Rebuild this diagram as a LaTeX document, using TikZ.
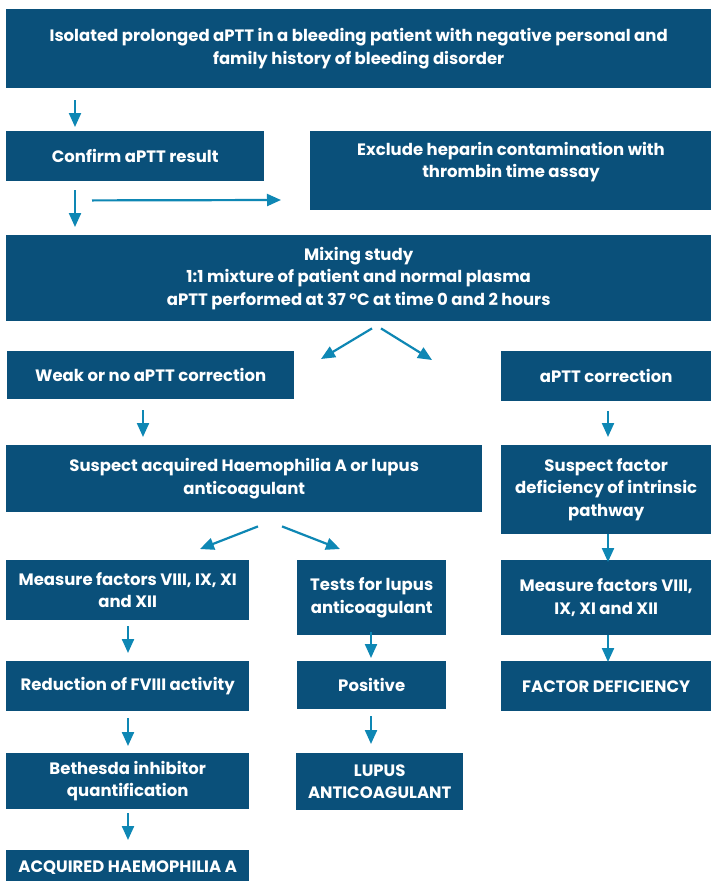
\documentclass[tikz,border=0pt]{standalone}
\usepackage{fontspec}
\setmainfont{Poppins}
\usetikzlibrary{arrows.meta,calc}
\definecolor{boxblue}{RGB}{10,80,122}
\definecolor{arrblue}{RGB}{14,135,180}
\begin{document}
\begin{tikzpicture}[x=1pt,y=-1pt,
  box/.style={fill=boxblue, draw=none, inner sep=0pt, anchor=north west, text=white,
    font=\fontsize{16.5}{22.5}\selectfont\bfseries, align=center},
  txt/.style={inner sep=0pt, text=white, font=\fontsize{16.5}{22.5}\selectfont\bfseries, align=center},
  arr/.style={draw=arrblue, line width=2.2pt, -{Triangle[length=14pt,width=12pt]}}]
\useasboundingbox[fill=white] (0,0) rectangle (711,881);
\begin{scope}
\clip (0,0) rectangle (711,881);
\node[box, minimum width=705, minimum height=79] (top) at (6,9) {Isolated prolonged aPTT in a bleeding patient with negative personal and\\family history of bleeding disorder};
\node[box, minimum width=258, minimum height=50] (confirm) at (6,131) {Confirm aPTT result};
\node[box, minimum width=401, minimum height=79] (excl) at (310,131) {};
\node[txt] (excltext) at (511,162) {Exclude heparin contamination with\\thrombin time assay};
\node[box, minimum width=705, minimum height=86] (mix) at (6,235) {Mixing study\\1:1 mixture of patient and normal plasma\\aPTT performed at 37 °C at time 0 and 2 hours};
\node[box, minimum width=287, minimum height=48] (weak) at (7,351) {Weak or no aPTT correction};
\node[box, minimum width=210, minimum height=50] (corr) at (501,351) {aPTT correction};
\node[box, minimum width=476, minimum height=67] (susp) at (6,445) {Suspect acquired Haemophilia A or lupus\\anticoagulant};
\node[box, minimum width=210, minimum height=89] (suspf) at (501,445) {Suspect factor\\deficiency of intrinsic\\pathway};
\node[box, minimum width=243, minimum height=60] (meas1) at (6,560) {Measure factors VIII, IX, XI\\and XII};
\node[box, minimum width=149, minimum height=75] (tests) at (297,560) {Tests for lupus\\anticoagulant};
\node[box, minimum width=210, minimum height=75] (meas2) at (501,560) {Measure factors VIII,\\IX, XI and XII};
\node[box, minimum width=243, minimum height=50] (red) at (6,661) {Reduction of FVIII activity};
\node[box, minimum width=149, minimum height=48] (pos) at (297,661) {Positive};
\node[box, minimum width=210, minimum height=50] (fdef) at (501,661) {FACTOR DEFICIENCY};
\node[box, minimum width=243, minimum height=56] (beth) at (6,753) {Bethesda inhibitor\\quantification};
\node[box, minimum width=167, minimum height=57] (lupus) at (296,753) {LUPUS\\ANTICOAGULANT};
\node[box, minimum width=243, minimum height=34] (acq) at (6,850) {ACQUIRED HAEMOPHILIA A};
\end{scope}
% arrows
\draw[arr] ($(top.south west)+(69,12)$) -- ($(confirm.north west)+(69,-4)$);
\draw[arr] ($(confirm.south west)+(69,9)$) -- ($(mix.north west)+(69,-8)$);
\draw[arr] ($(confirm.south west)+(86,19)$) -- ($(excl.north west)+(-29,69)$);
\draw[arr] ($(mix.south west)+(366,7)$) -- ($(weak.north west)+(314,8)$);
\draw[arr] ($(mix.south west)+(375,7)$) -- ($(corr.north west)+(-69,9)$);
\draw[arr] ($(weak.south west)+(136,11)$) -- ($(susp.north west)+(137,-8)$);
\draw[arr] ($(corr.south west)+(107,10)$) -- ($(suspf.north west)+(107,-8)$);
\draw[arr] ($(susp.south west)+(252,14)$) -- ($(meas1.north west)+(194,-11)$);
\draw[arr] ($(susp.south west)+(276,14)$) -- ($(tests.north west)+(43,-11)$);
\draw[arr] ($(suspf.south west)+(107,0)$) -- ($(meas2.north west)+(107,2)$);
\draw[arr] ($(meas1.south west)+(122,6)$) -- ($(red.north west)+(122,-8)$);
\draw[arr] ($(tests.south west)+(74,-3)$) -- ($(pos.north west)+(74,-3)$);
\draw[arr] ($(meas2.south west)+(107,0)$) -- ($(fdef.north west)+(107,1)$);
\draw[arr] ($(red.south west)+(122,7)$) -- ($(beth.north west)+(122,-7)$);
\draw[arr] ($(pos.south west)+(74,7)$) -- ($(lupus.north west)+(75,-9)$);
\draw[arr] ($(beth.south west)+(122,4)$) -- ($(acq.north west)+(122,-10)$);
\end{tikzpicture}
\end{document}
